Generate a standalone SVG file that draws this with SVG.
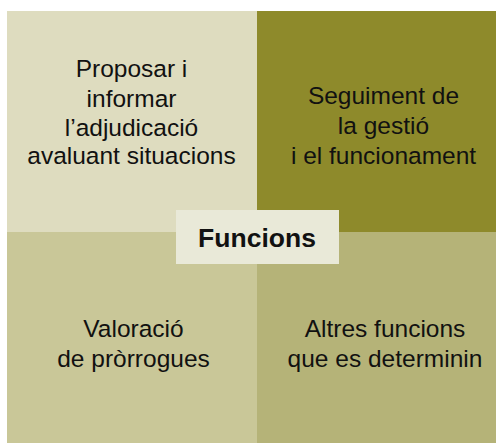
<svg xmlns="http://www.w3.org/2000/svg" width="496" height="443" viewBox="0 0 496 443">
<style>
.t{font-family:"Liberation Sans",Arial,Helvetica,sans-serif;font-size:24.5px;fill:#111;text-anchor:middle}
.c{font-family:"Liberation Sans",Arial,Helvetica,sans-serif;font-size:26.5px;font-weight:bold;fill:#111;text-anchor:middle}
</style>
<rect width="496" height="443" fill="#ffffff"/>
<g id="tl">
<rect x="7" y="11" width="250" height="221" fill="#dedcbf"/>
<text class="t" x="131.5" y="77.3">Proposar i</text>
<text class="t" x="131.5" y="106.7">informar</text>
<text class="t" x="131.5" y="135.7">l’adjudicació</text>
<text class="t" x="131.5" y="164.3">avaluant situacions</text>
</g>
<g id="tr">
<rect x="257" y="11" width="239" height="221" fill="#8e8a2b"/>
<text class="t" x="383.5" y="104.3">Seguiment de</text>
<text class="t" x="383.5" y="134.3">la gestió</text>
<text class="t" x="383.5" y="164.3">i el funcionament</text>
</g>
<g id="bl">
<rect x="7" y="232" width="250" height="211" fill="#c9c798"/>
<text class="t" x="133.5" y="337.3">Valoració</text>
<text class="t" x="133.5" y="367">de pròrrogues</text>
</g>
<g id="br">
<rect x="257" y="232" width="239" height="211" fill="#b5b378"/>
<text class="t" x="385" y="337.3">Altres funcions</text>
<text class="t" x="385" y="366.7">que es determinin</text>
</g>
<g id="connectors"></g>
<g id="center">
<rect x="176" y="210" width="163" height="54" fill="#e9e9d8"/>
<text class="c" x="257" y="247.3">Funcions</text>
</g>
</svg>
